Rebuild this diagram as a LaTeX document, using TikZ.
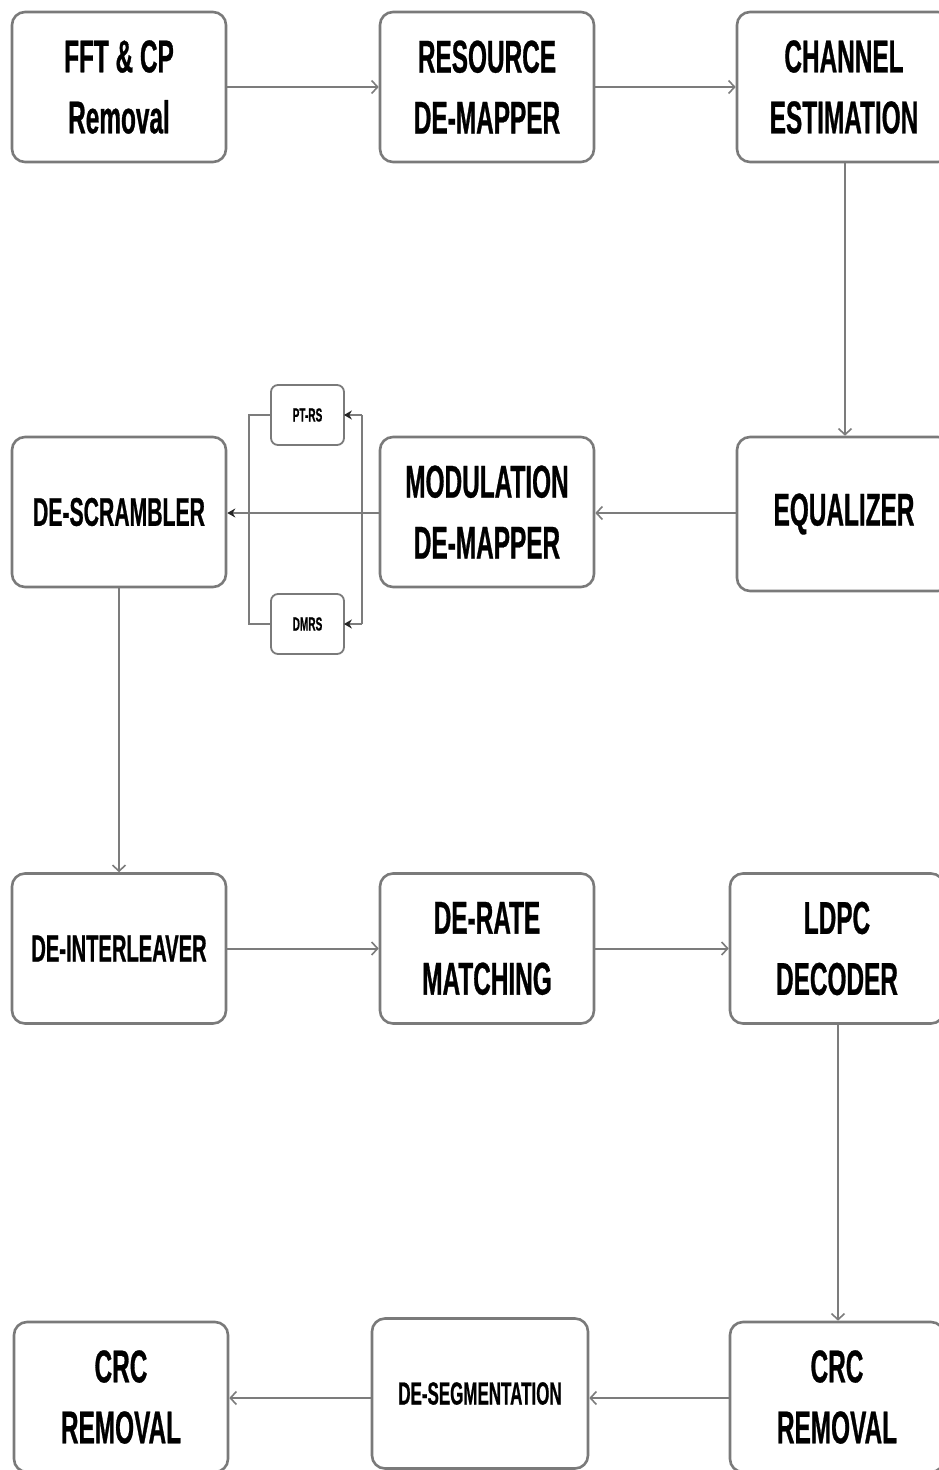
\documentclass[tikz,border=0pt]{standalone}
\usepackage{fontspec}
\newfontfamily\blockfont{Liberation Sans}[FakeStretch=0.53,FakeBold=0.6]
\usetikzlibrary{arrows.meta}
\definecolor{edgegray}{HTML}{7A7A7A}
\definecolor{linegray}{HTML}{7C7C7C}
\begin{document}
\begin{tikzpicture}[x=1pt,y=-1pt,
  block/.style={draw=edgegray, line width=2.6pt, rounded corners=13pt,
    fill=white, minimum width=214pt, minimum height=150pt, inner sep=0pt,
    align=center, text=black,
    font=\blockfont\bfseries\fontsize{46}{61}\selectfont},
  tag/.style={draw=edgegray, line width=1.8pt, rounded corners=7pt,
    fill=white, minimum width=73pt, minimum height=60pt, inner sep=0pt,
    text=black, font=\blockfont\bfseries\fontsize{19}{22}\selectfont},
  flow/.style={draw=linegray, line width=2pt,
    -{Straight Barb[length=6pt,width=13pt,line width=1.6pt]}},
  feed/.style={draw=linegray, line width=2pt,
    -{Stealth[length=8pt,width=9pt,color=black!85]}},
  plain/.style={draw=linegray, line width=2pt}]
\path[use as bounding box, clip] (0,0) rectangle (939,1470);
\fill[white] (0,0) rectangle (939,1470);

% first row
\node[block] (fft) at (119,87) {FFT \& CP\\Removal};
\node[block] (rdm) at (487,87) {RESOURCE\\DE-MAPPER};
\node[block] (che) at (844,87) {CHANNEL\\ESTIMATION};

% second row
\node[block, minimum height=154pt] (equ) at (844,514) {EQUALIZER};
\node[block] (mod) at (487,512) {MODULATION\\DE-MAPPER};
\node[block, font=\blockfont\bfseries\fontsize{40}{48}\selectfont] (desc) at (119,512) {DE-SCRAMBLER};
\node[tag] (ptrs) at (307.5,415) {PT-RS};
\node[tag] (dmrs) at (307.5,624) {DMRS};

% third row
\node[block, font=\blockfont\bfseries\fontsize{38}{46}\selectfont] (deint) at (119,948.5) {DE-INTERLEAVER};
\node[block] (derate) at (487,948.5) {DE-RATE\\MATCHING};
\node[block] (ldpc) at (837,948.5) {LDPC\\DECODER};

% fourth row
\node[block] (crcR) at (837,1397) {CRC\\REMOVAL};
\node[block, minimum width=216pt, font=\blockfont\bfseries\fontsize{32}{40}\selectfont] (deseg) at (480,1393.5) {DE-SEGMENTATION};
\node[block] (crcL) at (121,1397) {CRC\\REMOVAL};

% levels of the horizontal links
\coordinate (lvB) at (0,513);
\coordinate (lvD) at (0,1398);

% main chain
\draw[flow] (fft.east) -- (rdm.west);
\draw[flow] (rdm.east) -- (che.west);
\draw[flow] (che.south -| 845,0) -- (equ.north -| 845,0);
\draw[flow] (equ.west |- lvB) -- (mod.east |- lvB);
\draw[flow] (desc.south) -- (deint.north);
\draw[flow] (deint.east) -- (derate.west);
\draw[flow] (derate.east) -- (ldpc.west);
\draw[flow] (ldpc.south -| 838,0) -- (crcR.north -| 838,0);
\draw[flow] (crcR.west |- lvD) -- (deseg.east |- lvD);
\draw[flow] (deseg.west |- lvD) -- (crcL.east |- lvD);

% reference signal side branch
\coordinate (lbus) at (249,0);
\coordinate (rbus) at (362,0);
\draw[plain] (ptrs.west) -- (ptrs.west -| lbus) -- (dmrs.west -| lbus) -- (dmrs.west);
\draw[plain] (ptrs.east -| rbus) -- (dmrs.east -| rbus);
\draw[feed, shorten >=-1pt] (ptrs.east -| rbus) -- (ptrs.east);
\draw[feed, shorten >=-1pt] (dmrs.east -| rbus) -- (dmrs.east);
\draw[feed] (mod.west |- lvB) -- (desc.east |- lvB);
\end{tikzpicture}
\end{document}
